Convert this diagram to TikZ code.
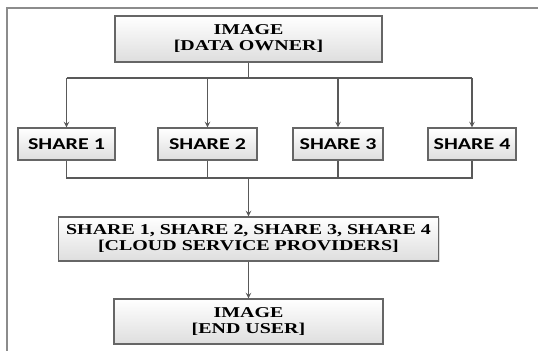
\documentclass[tikz,border=0pt]{standalone}
\usepackage{fontspec}
\setmainfont{Liberation Serif}[FakeStretch=1.33]
\newfontfamily\sharefont{Carlito}[FakeStretch=1.33]
\usetikzlibrary{shadows}
\tikzset{
  box/.style={draw=black!60, line width=0.8pt, top color=white, bottom color=black!13,
    drop shadow={opacity=0.25, shadow xshift=1pt, shadow yshift=-1pt},
    inner sep=0pt, align=center, font=\fontsize{11.25}{12}\selectfont\bfseries},
  sharebox/.style={box, minimum width=#1, minimum height=24pt,
    font=\sharefont\fontsize{12.4}{14}\selectfont\bfseries},
  link/.style={draw=black!65, line width=0.9pt}
}
\begin{document}
\begin{tikzpicture}[>=stealth, x=0.75pt, y=-0.75pt]
			\useasboundingbox (0,0) rectangle (538,351);
			\draw[black!45, line width=1.4pt] (6,8)--(538,8);
			\draw[black!45, line width=1.2pt] (7,8)--(7,351);
			\node[box, minimum width=200.25pt, minimum height=34.5pt] (owner) at (248.5,39) {IMAGE\\{}[DATA OWNER]};
			\node[sharebox=72.75pt] (s1) at (66.5,144) {SHARE 1};
			\node[sharebox=74.25pt] (s2) at (207.5,144) {SHARE 2};
			\node[sharebox=67.5pt] (s3) at (338,144) {SHARE 3};
			\node[sharebox=66pt] (s4) at (472,144) {SHARE 4};
			\node[box, minimum width=285pt, minimum height=33pt] (csp) at (248.5,239) {SHARE 1, SHARE 2, SHARE 3, SHARE 4\\{}[CLOUD SERVICE PROVIDERS]};
			\node[box, minimum width=201.75pt, minimum height=33.75pt] (user) at (248.5,321.5) {IMAGE\\{}[END USER]};
			\coordinate (split) at (248.5,78);
			\coordinate (join) at (248.5,178);
			\draw[link] (owner.south)--(split);
			\draw[link] (s1|-split)--(s4|-split);
			\foreach \s in {s1,s2,s3,s4}
				\draw[link,->] (\s|-split)--(\s.north);
			\draw[link] (s1.south)|-(s4|-join)--(s4.south);
			\draw[link] (s2.south)--(s2|-join);
			\draw[link] (s3.south)--(s3|-join);
			\draw[link,->] (join)--(csp.north);
			\draw[link,->] (csp.south)--(user.north);
		\end{tikzpicture}
\end{document}
